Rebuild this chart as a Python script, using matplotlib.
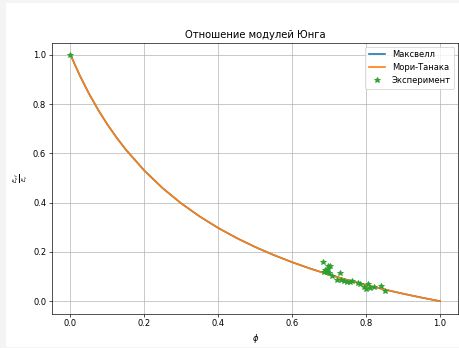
import matplotlib
matplotlib.use("Agg")
from matplotlib import pyplot as plt
from matplotlib.patches import Rectangle

# пористость и отношение модулей
phi = [0.0, 0.025, 0.05, 0.075, 0.1, 0.125, 0.15, 0.2, 0.25, 0.3, 0.35, 0.4, 0.45,
       0.5, 0.55, 0.6, 0.65, 0.7, 0.75, 0.8, 0.85, 0.9, 0.95, 1.0]
maxwell = [1.0, 0.9166, 0.8426, 0.7765, 0.7171, 0.6635, 0.6148, 0.5298, 0.4580,
           0.3966, 0.3435, 0.2970, 0.2561, 0.2198, 0.1873, 0.1581, 0.1317, 0.1077,
           0.0858, 0.0658, 0.0474, 0.0303, 0.0146, 0.0]
mori_tanaka = [1.0, 0.9166, 0.8426, 0.7765, 0.7171, 0.6635, 0.6148, 0.5298, 0.4580,
               0.3966, 0.3435, 0.2970, 0.2561, 0.2198, 0.1873, 0.1581, 0.1317, 0.1077,
               0.0858, 0.0658, 0.0474, 0.0303, 0.0146, 0.0]

# эксперимент
phi_exp = [0.0, 0.684, 0.697, 0.703, 0.686, 0.695, 0.700, 0.690, 0.698, 0.730, 0.707,
           0.722, 0.732, 0.741, 0.749, 0.756, 0.761, 0.779, 0.783, 0.795, 0.799,
           0.806, 0.811, 0.822, 0.840, 0.851]
e_exp = [1.0, 0.160, 0.143, 0.142, 0.119, 0.119, 0.115, 0.128, 0.130, 0.113, 0.102,
         0.088, 0.088, 0.083, 0.078, 0.076, 0.081, 0.072, 0.068, 0.056, 0.048,
         0.068, 0.054, 0.058, 0.061, 0.041]

fig = plt.figure(figsize=(459 / 60, 348 / 60), dpi=60)
fig.patch.set_facecolor("#f4f4f4")
fig.add_artist(Rectangle((6 / 459, 1 / 348), 1, 1 - 4 / 348,
                         transform=fig.transFigure, facecolor="white",
                         edgecolor="none", zorder=-10))

ax = fig.add_axes([52 / 459, 1 - 313.5 / 348, 406.5 / 459, 271 / 348])
ax.plot(phi, maxwell, lw=2, label="Максвелл")
ax.plot(phi, mori_tanaka, lw=2, label="Мори-Танака")
ax.plot(phi_exp, e_exp, "*", ms=7, label="Эксперимент")
ax.set_title("Отношение модулей Юнга")
ax.set_xlabel(r"$\phi$")
ax.set_ylabel(r"$\frac{E_{ef}}{E_{c}}$")
ax.grid(True)
ax.legend(loc="upper right")

fig.savefig("out.png", dpi=60)
